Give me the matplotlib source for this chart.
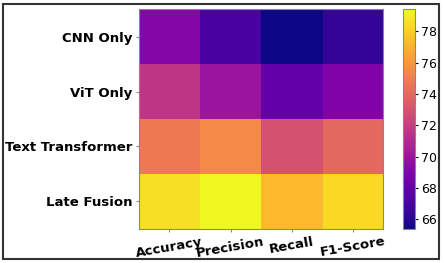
import numpy as np
import matplotlib
matplotlib.use('Agg')
from matplotlib import pyplot as plt
from matplotlib.patches import Rectangle

models = ['CNN Only', 'ViT Only', 'Text Transformer', 'Late Fusion']
metrics = ['Accuracy', 'Precision', 'Recall', 'F1-Score']

cnn_vals = [69.2, 67.0, 65.4, 66.4]
vit_vals = [71.6, 70.0, 68.0, 69.0]
text_vals = [74.8, 75.5, 73.0, 74.0]
fusion_vals = [78.6, 79.4, 77.3, 78.4]

scores = np.array([cnn_vals, vit_vals, text_vals, fusion_vals])

fig = plt.figure(figsize=(4.44, 2.63), dpi=100)

# frame around the whole picture
W, H = 444.0, 263.0
fig.patches.append(Rectangle((2.5 / W, 4.0 / H), 436.0 / W, 255.5 / H,
	transform=fig.transFigure, fill=False, edgecolor='#333333', linewidth=1.5))

ax = fig.add_axes([0.313, 0.13, 0.55, 0.835])
im = ax.imshow(scores, cmap='plasma', aspect='auto')

ax.set_xticks(np.arange(len(metrics)))
ax.set_xticklabels(metrics, rotation=10, fontsize=9.5, fontweight='bold')
ax.set_yticks(np.arange(len(models)))
ax.set_yticklabels(models, fontsize=9.5, fontweight='bold')
ax.tick_params(length=2.5, pad=2, color='#888888')
for s in ax.spines.values():
	s.set_color('#888888')

cax = fig.add_axes([0.907, 0.13, 0.028, 0.835])
cb = fig.colorbar(im, cax=cax)
cb.outline.set_edgecolor('#888888')
cb.ax.tick_params(labelsize=9, length=2.5, pad=2)

plt.savefig('out.png', dpi=100)
